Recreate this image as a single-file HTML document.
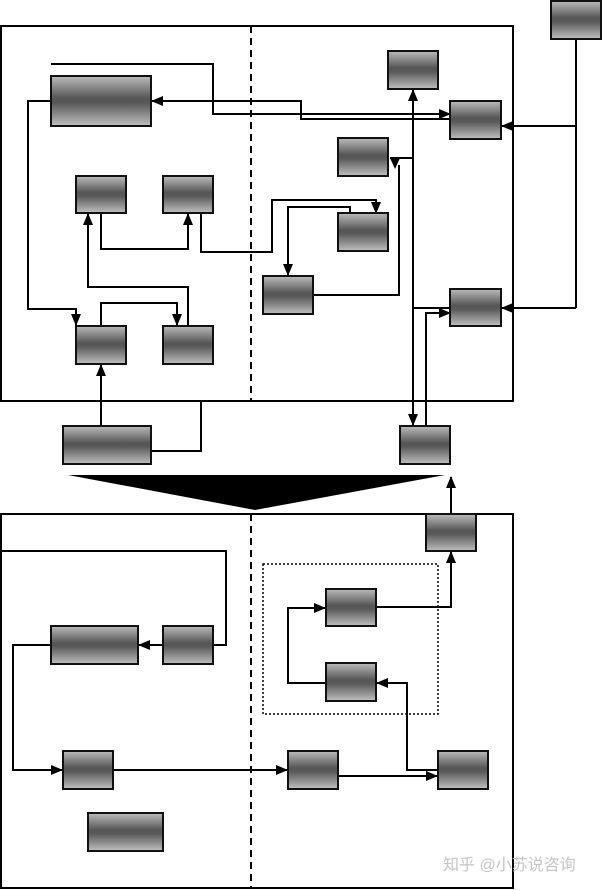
<!DOCTYPE html>
<html><head><meta charset="utf-8"><style>
html,body{margin:0;padding:0;background:#fff;width:602px;height:890px;overflow:hidden}
svg{display:block}
</style></head><body>
<svg width="602" height="890" viewBox="0 0 602 890" xmlns="http://www.w3.org/2000/svg">
<defs>
<linearGradient id="g" x1="0" y1="0" x2="0" y2="1">
<stop offset="0" stop-color="#bcbcbc"/><stop offset="0.45" stop-color="#555"/><stop offset="0.55" stop-color="#5a5a5a"/><stop offset="1" stop-color="#c0c0c0"/>
</linearGradient>
<marker id="a" markerWidth="12" markerHeight="12" refX="11" refY="5" orient="auto" markerUnits="userSpaceOnUse">
<path d="M0,0 L12,5 L0,10 z" fill="#000"/></marker>
</defs>
<g fill="none" stroke="#000" stroke-width="2">
<rect x="1" y="26" width="512" height="375"/>
<rect x="1" y="514" width="512" height="374"/>
<line x1="251" y1="26" x2="251" y2="401" stroke-dasharray="7,5"/>
<line x1="251" y1="514" x2="251" y2="888" stroke-dasharray="7,5"/>
<rect x="263" y="564" width="175" height="150" stroke-dasharray="2,2" stroke-width="1.5"/>
</g>
<polygon points="68,475 445,475 255,510" fill="#000"/>
<polygon points="390,158 400,158 395,169" fill="#000"/>
<g fill="none" stroke="#000" stroke-width="2" marker-end="url(#a)">
<polyline points="51,64 213,64 213,114 450,114"/>
<polyline points="450,119 301,119 301,101 152,101"/>
<polyline points="413,100 413,90"/>
<polyline points="413,100 413,425"/>
<polyline points="201,214 201,252 272,252 272,200 376,200 376,213"/>
<polyline points="350,214 350,207 288,207 288,275"/>
<polyline points="101,214 101,249 188,249 188,214"/>
<polyline points="188,326 188,287 88,287 88,214"/>
<polyline points="101,326 101,303 177,303 177,325"/>
<polyline points="51,101 28,101 28,309 76,309 76,325"/>
<polyline points="101,426 101,365"/>
<polyline points="426,426 426,313 450,313"/>
<polyline points="576,126 502,126"/>
<polyline points="576,308 502,308"/>
<polyline points="451,513 451,477"/>
<polyline points="376,607 451,607 451,552"/>
<polyline points="326,683 288,683 288,608 325,608"/>
<polyline points="438,770 407,770 407,683 377,683"/>
<polyline points="338,776 437,776"/>
<polyline points="1,551 226,551 226,645 139,645"/>
<polyline points="51,645 13,645 13,770 62,770"/>
<polyline points="113,770 287,770"/>
</g>
<g fill="none" stroke="#000" stroke-width="2">
<polyline points="313,295 399,295 399,165"/>
<polyline points="413,158 390,158"/>
<polyline points="151,451 201,451 201,401"/>
<polyline points="576,39 576,308"/>
<polyline points="413,308 450,308"/>
</g>
<g fill="url(#g)" stroke="#111" stroke-width="2">
<rect x="551" y="1" width="50" height="38"/>
<rect x="51" y="76" width="100" height="50"/>
<rect x="388" y="51" width="50" height="38"/>
<rect x="450" y="101" width="51" height="38"/>
<rect x="338" y="138" width="50" height="38"/>
<rect x="76" y="176" width="50" height="37"/>
<rect x="163" y="176" width="50" height="37"/>
<rect x="338" y="213" width="50" height="38"/>
<rect x="263" y="276" width="50" height="38"/>
<rect x="450" y="289" width="51" height="37"/>
<rect x="76" y="326" width="50" height="38"/>
<rect x="163" y="326" width="50" height="38"/>
<rect x="63" y="426" width="88" height="38"/>
<rect x="400" y="426" width="50" height="38"/>
<rect x="426" y="514" width="50" height="37"/>
<rect x="326" y="589" width="50" height="37"/>
<rect x="326" y="663" width="50" height="38"/>
<rect x="51" y="626" width="87" height="38"/>
<rect x="163" y="626" width="50" height="38"/>
<rect x="63" y="751" width="50" height="38"/>
<rect x="288" y="751" width="50" height="38"/>
<rect x="438" y="751" width="50" height="38"/>
<rect x="88" y="813" width="75" height="38"/>
</g>
<text x="443" y="870" font-family="Liberation Sans, Noto Sans CJK SC, sans-serif" font-size="16" fill="#c4c4c4">知乎 @小苏说咨询</text>
</svg>
</body></html>
